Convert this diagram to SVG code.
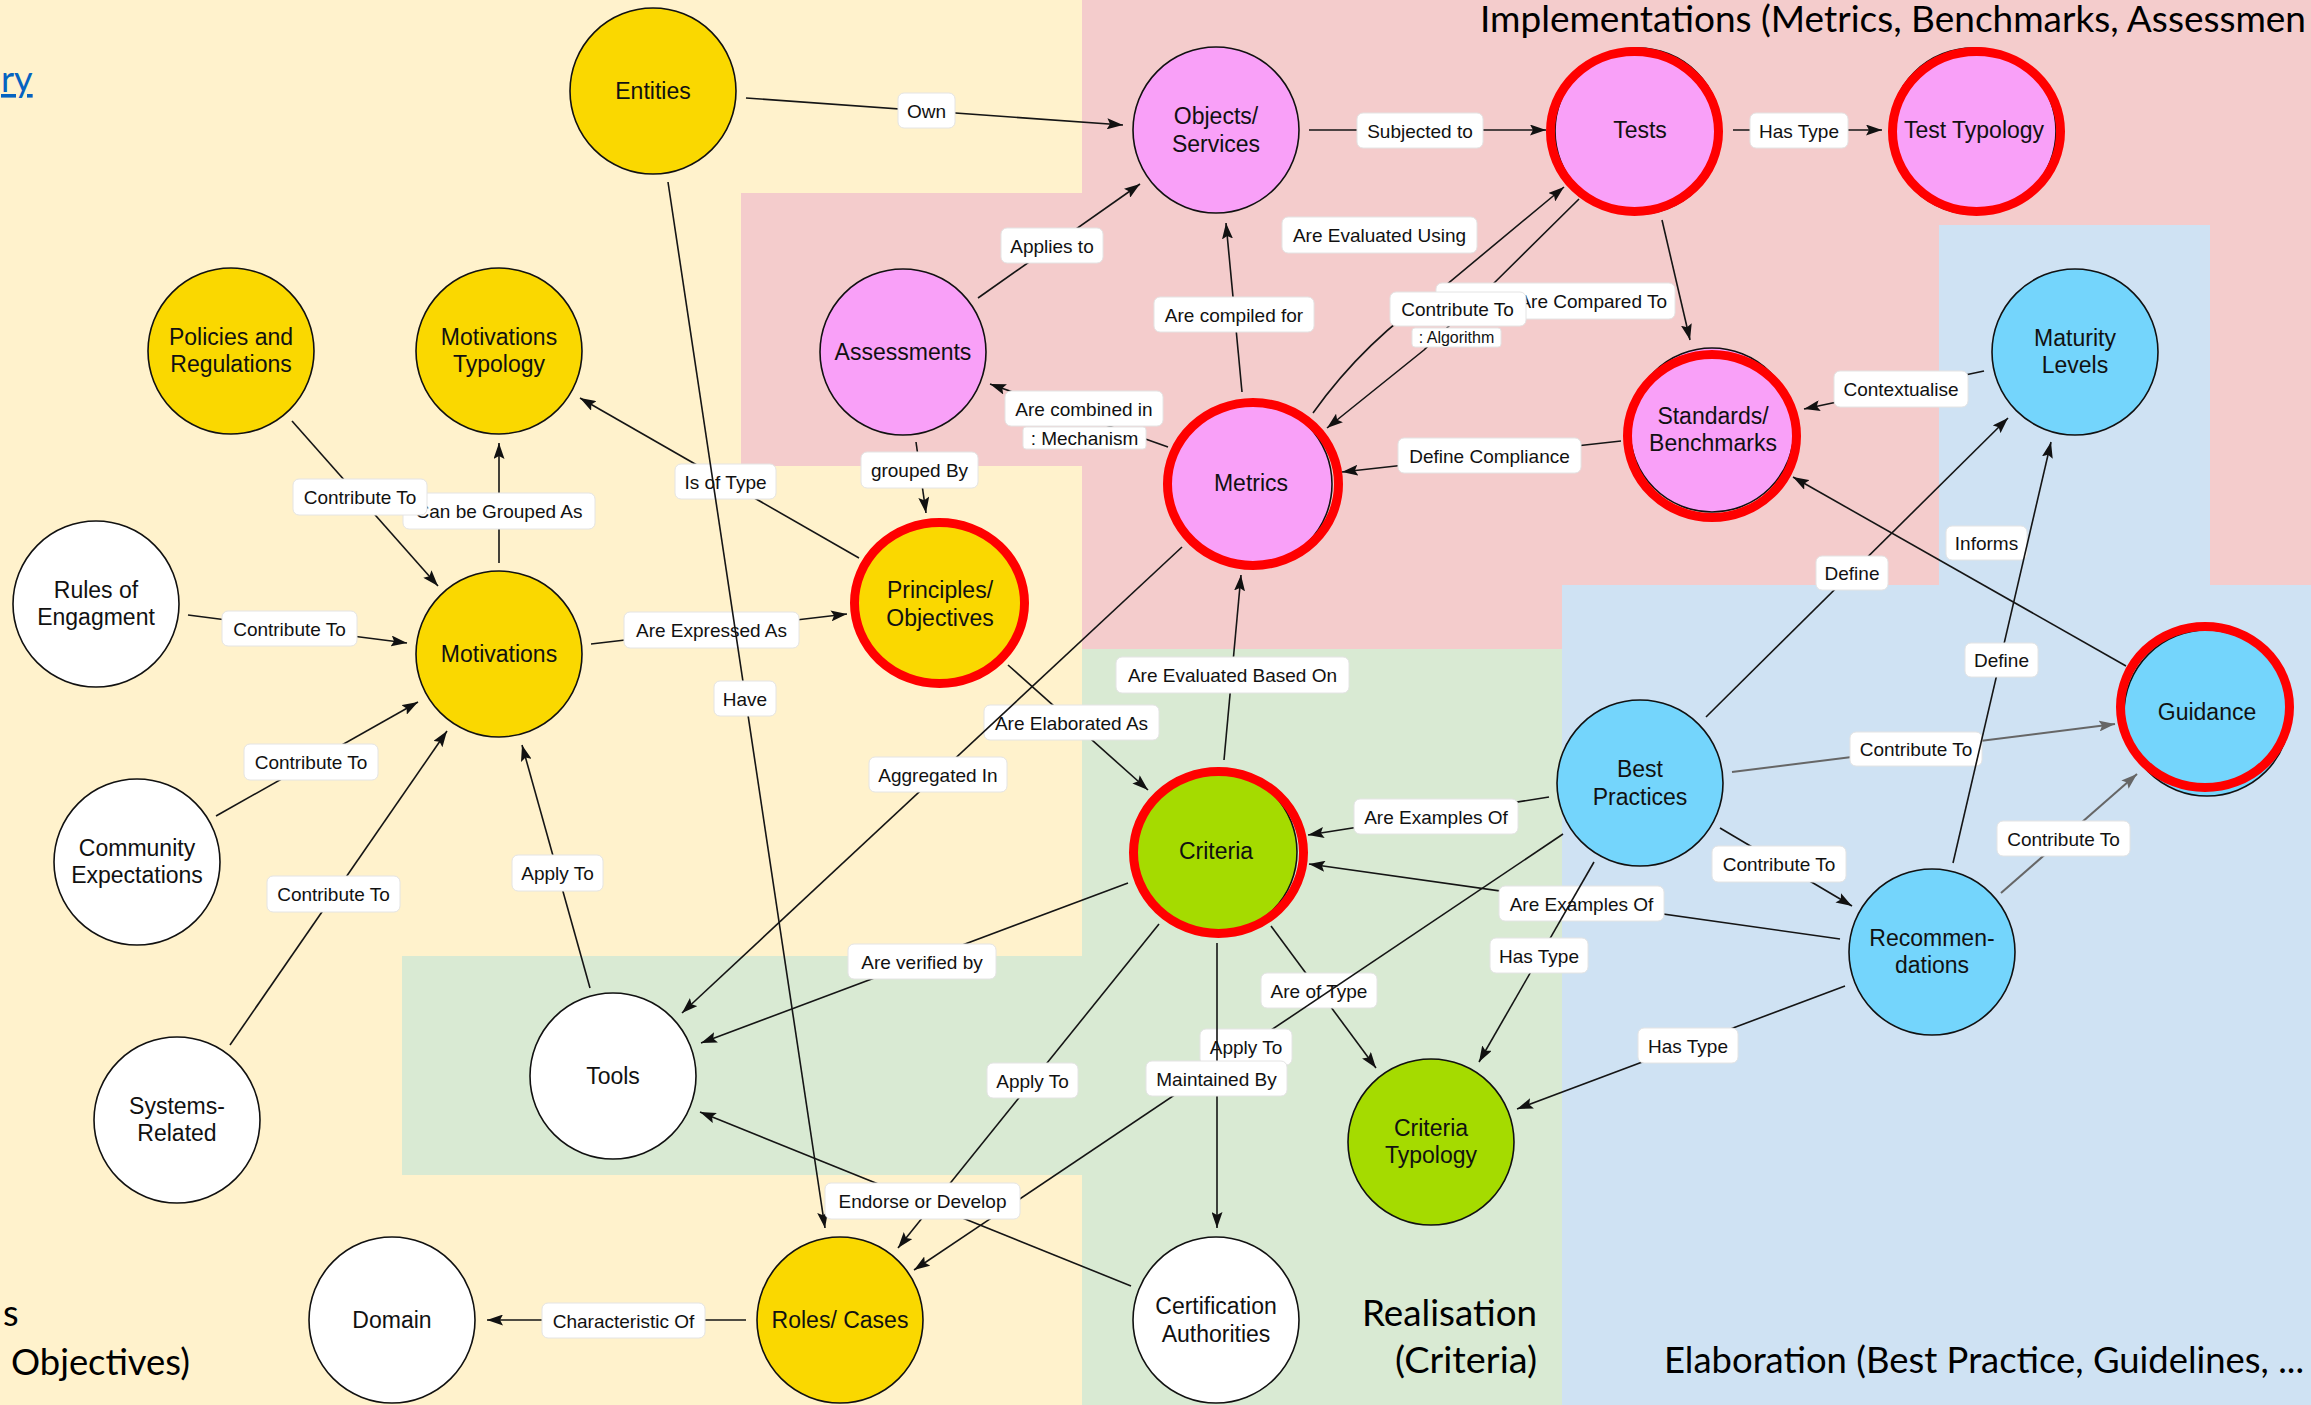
<svg xmlns="http://www.w3.org/2000/svg" width="2311" height="1405" viewBox="0 0 2311 1405">
<defs>
<marker id="arr" viewBox="0 0 16 11" refX="16" refY="5.5" markerWidth="16" markerHeight="11" markerUnits="userSpaceOnUse" orient="auto"><path d="M0,0 L16,5.5 L0,11 L3,5.5 z" fill="#111"/></marker>
<marker id="garr" viewBox="0 0 16 11" refX="16" refY="5.5" markerWidth="16" markerHeight="11" markerUnits="userSpaceOnUse" orient="auto"><path d="M0,0 L16,5.5 L0,11 L3,5.5 z" fill="#666"/></marker>
</defs>
<style>
.nd{stroke:#111;stroke-width:1.6}
.yel{fill:#FAD800}
.pink{fill:#F9A0F8}
.blue{fill:#74D5FC}
.green{fill:#A5DB00}
.white{fill:#FFFFFF}
.ring{fill:none;stroke:#FF0000;stroke-width:9}
.nt{font-family:"Liberation Sans",Arial,sans-serif;font-size:23px;fill:#111;text-anchor:middle}
.ln{stroke:#151515;stroke-width:1.6;fill:none;marker-end:url(#arr)}
.gl{stroke:#666;stroke-width:2;fill:none;marker-end:url(#garr)}
.lb rect{fill:#FFFFFF;stroke:#E4E4E4;stroke-width:1}
.lb text{font-family:"Liberation Sans",Arial,sans-serif;font-size:19px;fill:#111;text-anchor:middle}
.title{font-family:Lato,"Open Sans",sans-serif;font-size:36px;fill:#000}
</style>

<!-- background regions -->
<g id="background">
<rect x="0" y="0" width="2311" height="1405" fill="#FFF2CC"/>
<rect x="1082" y="0" width="1229" height="649" fill="#F4CCCC"/>
<rect x="741" y="193" width="341" height="273" fill="#F4CCCC"/>
<rect x="1082" y="649" width="480" height="756" fill="#D9EAD3"/>
<rect x="402" y="956" width="680" height="219" fill="#D9EAD3"/>
<rect x="1562" y="585" width="749" height="820" fill="#CFE2F3"/>
<rect x="1939" y="225" width="271" height="360" fill="#CFE2F3"/>
</g>

<g id="titles">
<text class="title" x="1480" y="32" textLength="826" lengthAdjust="spacingAndGlyphs">Implementations (Metrics, Benchmarks, Assessmen</text>
<text class="title" x="1" y="92" style="fill:#0563C1" text-decoration="underline">ry</text>
<text class="title" x="3" y="1326">s</text>
<text class="title" x="11" y="1375" textLength="179" lengthAdjust="spacingAndGlyphs">Objectives)</text>
<text class="title" x="1362" y="1326" textLength="175" lengthAdjust="spacingAndGlyphs">Realisation</text>
<text class="title" x="1395" y="1373" textLength="142" lengthAdjust="spacingAndGlyphs">(Criteria)</text>
<text class="title" x="1664" y="1373" textLength="640" lengthAdjust="spacingAndGlyphs">Elaboration (Best Practice, Guidelines, ...</text>
</g>

<g id="connectors">
<!-- base lines -->
<path class="ln" d="M746,98 L1123,125"/>
<path class="ln" d="M1309,130 L1546,130"/>
<path class="ln" d="M1733,130 L1882,130"/>
<path class="ln" d="M978,298 L1140,184"/>
<path class="ln" d="M1242,392 L1226,223"/>
<path class="ln" d="M1313,413 Q1365,340 1440,290 L1564,187"/>
<path class="ln" d="M1579,199 L1487,290 Q1455,320 1424,350 L1327,428"/>
<path class="ln" d="M1168,447 L990,384"/>
<path class="ln" d="M916,442 L926,513"/>
<path class="ln" d="M1621,441 L1342,472"/>
<path class="ln" d="M1662,220 L1690,340"/>
<path class="ln" d="M1984,371 L1804,409"/>
<path class="ln" d="M2126,666 L1793,477"/>
<path class="ln" d="M1706,717 L2008,418"/>
<path class="gl" d="M1732,772 L2115,724"/>
<path class="gl" d="M2001,893 L2137,774"/>
<path class="ln" d="M1720,828 L1852,906"/>
<path class="ln" d="M1549,797 L1308,835"/>
<path class="ln" d="M1840,939 L1309,864"/>
<path class="ln" d="M1845,986 L1517,1109"/>
<path class="ln" d="M1271,926 L1376,1068"/>
<path class="ln" d="M1159,924 L898,1248"/>
<path class="ln" d="M1131,1286 L700,1112"/>
<path class="ln" d="M1128,883 L701,1043"/>
<path class="ln" d="M1008,665 L1148,790"/>
<path class="ln" d="M1224,760 L1241,575"/>
<path class="ln" d="M591,644 L847,614"/>
<path class="ln" d="M859,558 L580,398"/>
<path class="ln" d="M499,563 L499,443"/>
<path class="ln" d="M292,421 L438,586"/>
<path class="ln" d="M188,615 L407,643"/>
<path class="ln" d="M216,816 L418,702"/>
<path class="ln" d="M230,1045 L447,731"/>
<path class="ln" d="M590,988 L522,745"/>
<path class="ln" d="M746,1320 L487,1320"/>

<!-- base labels -->
<g class="lb"><rect x="898" y="93" width="57" height="35" rx="6"/><text x="926.5" y="117.5">Own</text></g>
<g class="lb"><rect x="1357" y="113" width="126" height="35" rx="6"/><text x="1420" y="137.5">Subjected to</text></g>
<g class="lb"><rect x="1750" y="113" width="98" height="35" rx="6"/><text x="1799" y="137.5">Has Type</text></g>
<g class="lb"><rect x="1001" y="228" width="102" height="35" rx="6"/><text x="1052" y="252.5">Applies to</text></g>
<g class="lb"><rect x="1154" y="297" width="160" height="35" rx="6"/><text x="1234" y="321.5">Are compiled for</text></g>
<g class="lb"><rect x="1282" y="217" width="195" height="36" rx="6"/><text x="1379.5" y="242">Are Evaluated Using</text></g>
<g class="lb"><rect x="1436" y="283" width="239" height="36" rx="6"/><text x="1667" y="308" style="text-anchor:end">Are Compared To</text></g>
<g class="lb"><rect x="1390" y="292" width="136" height="34" rx="6"/><text x="1457.5" y="316">Contribute To</text></g>
<g class="lb"><rect x="1412" y="328" width="89" height="19" rx="3"/><text x="1456.5" y="343" style="font-size:16px">: Algorithm</text></g>
<g class="lb"><rect x="1005" y="391" width="158" height="35" rx="6"/><text x="1084" y="415.5">Are combined in</text></g>
<g class="lb"><rect x="1023" y="427" width="123" height="22" rx="3"/><text x="1084.5" y="445">: Mechanism</text></g>
<g class="lb"><rect x="861" y="452" width="117" height="36" rx="6"/><text x="919.5" y="477">grouped By</text></g>
<g class="lb"><rect x="1398" y="438" width="183" height="35" rx="6"/><text x="1489.5" y="462.5">Define Compliance</text></g>
<g class="lb"><rect x="1834" y="371" width="134" height="36" rx="6"/><text x="1901" y="396">Contextualise</text></g>
<g class="lb"><rect x="1946" y="526" width="81" height="34" rx="6"/><text x="1986.5" y="550">Informs</text></g>
<g class="lb"><rect x="1816" y="556" width="72" height="34" rx="6"/><text x="1852" y="580">Define</text></g>
<g class="lb"><rect x="1850" y="732" width="132" height="34" rx="6"/><text x="1916" y="756">Contribute To</text></g>
<g class="lb"><rect x="1997" y="821" width="133" height="35" rx="6"/><text x="2063.5" y="845.5">Contribute To</text></g>
<g class="lb"><rect x="1712" y="846" width="134" height="36" rx="6"/><text x="1779" y="871">Contribute To</text></g>
<g class="lb"><rect x="1354" y="799" width="164" height="35" rx="6"/><text x="1436" y="823.5">Are Examples Of</text></g>
<g class="lb"><rect x="1499" y="886" width="165" height="35" rx="6"/><text x="1581.5" y="910.5">Are Examples Of</text></g>
<g class="lb"><rect x="1638" y="1028" width="100" height="35" rx="6"/><text x="1688" y="1052.5">Has Type</text></g>
<g class="lb"><rect x="1261" y="973" width="116" height="35" rx="6"/><text x="1319" y="997.5">Are of Type</text></g>
<g class="lb"><rect x="987" y="1063" width="91" height="35" rx="6"/><text x="1032.5" y="1087.5">Apply To</text></g>
<g class="lb"><rect x="848" y="944" width="148" height="35" rx="6"/><text x="922" y="968.5">Are verified by</text></g>
<g class="lb"><rect x="984" y="705" width="175" height="35" rx="6"/><text x="1071.5" y="729.5">Are Elaborated As</text></g>
<g class="lb"><rect x="1116" y="657" width="233" height="36" rx="6"/><text x="1232.5" y="682">Are Evaluated Based On</text></g>
<g class="lb"><rect x="624" y="612" width="175" height="36" rx="6"/><text x="711.5" y="637">Are Expressed As</text></g>
<g class="lb"><rect x="675" y="464" width="101" height="35" rx="6"/><text x="725.5" y="488.5">Is of Type</text></g>
<g class="lb"><rect x="403" y="493" width="192" height="36" rx="6"/><text x="499" y="518">Can be Grouped As</text></g>
<g class="lb"><rect x="293" y="479" width="134" height="36" rx="6"/><text x="360" y="504">Contribute To</text></g>
<g class="lb"><rect x="222" y="611" width="135" height="35" rx="6"/><text x="289.5" y="635.5">Contribute To</text></g>
<g class="lb"><rect x="244" y="744" width="134" height="36" rx="6"/><text x="311" y="769">Contribute To</text></g>
<g class="lb"><rect x="267" y="876" width="133" height="36" rx="6"/><text x="333.5" y="901">Contribute To</text></g>
<g class="lb"><rect x="512" y="855" width="91" height="36" rx="6"/><text x="557.5" y="880">Apply To</text></g>
<g class="lb"><rect x="542" y="1303" width="163" height="35" rx="6"/><text x="623.5" y="1327.5">Characteristic Of</text></g>

<!-- edges drawn over other labels -->
<path class="ln" d="M1182,547 L682,1013"/>
<g class="lb"><rect x="869" y="757" width="138" height="35" rx="6"/><text x="938" y="781.5">Aggregated In</text></g>
<path class="ln" d="M668,182 L825,1228"/>
<g class="lb"><rect x="714" y="681" width="62" height="35" rx="6"/><text x="745" y="705.5">Have</text></g>
<path class="ln" d="M1594,862 L1479,1062"/>
<g class="lb"><rect x="1490" y="938" width="98" height="35" rx="6"/><text x="1539" y="962.5">Has Type</text></g>
<path class="ln" d="M1563,834 L914,1270"/>
<g class="lb"><rect x="1200" y="1029" width="92" height="36" rx="6"/><text x="1246" y="1054">Apply To</text></g>
<path class="ln" d="M1217,943 L1217,1228"/>
<g class="lb"><rect x="1146" y="1061" width="141" height="35" rx="6"/><text x="1216.5" y="1085.5">Maintained By</text></g>
<g class="lb"><rect x="825" y="1183" width="195" height="36" rx="6"/><text x="922.5" y="1208">Endorse or Develop</text></g>
<path class="ln" d="M1953,863 L2051,442"/>
<g class="lb"><rect x="1965" y="643" width="73" height="34" rx="6"/><text x="2001.5" y="667">Define</text></g>
</g>

<g id="nodes">
<g id="entities"><ellipse class="nd yel" cx="653" cy="91" rx="83" ry="83"/><text class="nt" x="653" y="99">Entities</text></g>
<g id="objects-services"><ellipse class="nd pink" cx="1216" cy="130" rx="83" ry="83"/><text class="nt" x="1216" y="124">Objects/</text><text class="nt" x="1216" y="152">Services</text></g>
<g id="tests"><ellipse class="nd pink" cx="1638" cy="131" rx="83" ry="83"/><ellipse class="ring" cx="1634.5" cy="131.5" rx="84" ry="80"/><text class="nt" x="1640" y="138">Tests</text></g>
<g id="test-typology"><ellipse class="nd pink" cx="1973" cy="131" rx="83" ry="83"/><ellipse class="ring" cx="1976.5" cy="131.5" rx="84" ry="80"/><text class="nt" x="1974" y="138">Test Typology</text></g>
<g id="maturity-levels"><ellipse class="nd blue" cx="2075" cy="352" rx="83" ry="83"/><text class="nt" x="2075" y="346">Maturity</text><text class="nt" x="2075" y="373">Levels</text></g>
<g id="standards-benchmarks"><ellipse class="nd pink" cx="1712" cy="430" rx="82" ry="82"/><ellipse class="ring" cx="1712" cy="436" rx="84.5" ry="81.5"/><text class="nt" x="1713" y="424">Standards/</text><text class="nt" x="1713" y="451">Benchmarks</text></g>
<g id="assessments"><ellipse class="nd pink" cx="903" cy="352" rx="83" ry="83"/><text class="nt" x="903" y="360">Assessments</text></g>
<g id="metrics"><ellipse class="nd pink" cx="1249" cy="484" rx="83" ry="83"/><ellipse class="ring" cx="1253" cy="484" rx="85.5" ry="81.5"/><text class="nt" x="1251" y="491">Metrics</text></g>
<g id="policies-regulations"><ellipse class="nd yel" cx="231" cy="351" rx="83" ry="83"/><text class="nt" x="231" y="345">Policies and</text><text class="nt" x="231" y="372">Regulations</text></g>
<g id="motivations-typology"><ellipse class="nd yel" cx="499" cy="351" rx="83" ry="83"/><text class="nt" x="499" y="345">Motivations</text><text class="nt" x="499" y="372">Typology</text></g>
<g id="rules-of-engagement"><ellipse class="nd white" cx="96" cy="604" rx="83" ry="83"/><text class="nt" x="96" y="598">Rules of</text><text class="nt" x="96" y="625">Engagment</text></g>
<g id="motivations"><ellipse class="nd yel" cx="499" cy="654" rx="83" ry="83"/><text class="nt" x="499" y="662">Motivations</text></g>
<g id="principles-objectives"><ellipse class="nd yel" cx="940" cy="603" rx="83" ry="83"/><ellipse class="ring" cx="939.5" cy="603" rx="85" ry="80.5"/><text class="nt" x="940" y="598">Principles/</text><text class="nt" x="940" y="626">Objectives</text></g>
<g id="community-expectations"><ellipse class="nd white" cx="137" cy="862" rx="83" ry="83"/><text class="nt" x="137" y="856">Community</text><text class="nt" x="137" y="883">Expectations</text></g>
<g id="systems-related"><ellipse class="nd white" cx="177" cy="1120" rx="83" ry="83"/><text class="nt" x="177" y="1114">Systems-</text><text class="nt" x="177" y="1141">Related</text></g>
<g id="tools"><ellipse class="nd white" cx="613" cy="1076" rx="83" ry="83"/><text class="nt" x="613" y="1084">Tools</text></g>
<g id="domain"><ellipse class="nd white" cx="392" cy="1320" rx="83" ry="83"/><text class="nt" x="392" y="1328">Domain</text></g>
<g id="roles-cases"><ellipse class="nd yel" cx="840" cy="1320" rx="83" ry="83"/><text class="nt" x="840" y="1328">Roles/ Cases</text></g>
<g id="certification-authorities"><ellipse class="nd white" cx="1216" cy="1320" rx="83" ry="83"/><text class="nt" x="1216" y="1314">Certification</text><text class="nt" x="1216" y="1342">Authorities</text></g>
<g id="criteria"><ellipse class="nd green" cx="1215" cy="852" rx="82" ry="82"/><ellipse class="ring" cx="1218.5" cy="852.5" rx="85" ry="81"/><text class="nt" x="1216" y="859">Criteria</text></g>
<g id="criteria-typology"><ellipse class="nd green" cx="1431" cy="1142" rx="83" ry="83"/><text class="nt" x="1431" y="1136">Criteria</text><text class="nt" x="1431" y="1163">Typology</text></g>
<g id="best-practices"><ellipse class="nd blue" cx="1640" cy="783" rx="83" ry="83"/><text class="nt" x="1640" y="777">Best</text><text class="nt" x="1640" y="805">Practices</text></g>
<g id="guidance"><ellipse class="nd blue" cx="2207" cy="713" rx="83" ry="83"/><ellipse class="ring" cx="2205" cy="707" rx="84.5" ry="80.5"/><text class="nt" x="2207" y="720">Guidance</text></g>
<g id="recommendations"><ellipse class="nd blue" cx="1932" cy="952" rx="83" ry="83"/><text class="nt" x="1932" y="946">Recommen-</text><text class="nt" x="1932" y="973">dations</text></g>
</g>
</svg>
